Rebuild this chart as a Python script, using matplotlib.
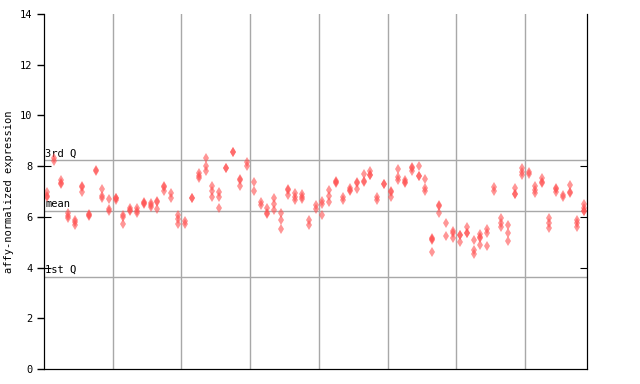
import numpy as np
import matplotlib
matplotlib.use("Agg")
import matplotlib.pyplot as plt

# replicate values per sample, one list per sample column
samples = [
    [6.97, 6.80, 6.84], [8.31, 8.20], [7.44, 7.31, 7.33], [6.14, 6.05, 5.97],
    [5.86, 5.78, 5.68], [7.19, 7.21, 7.00], [6.11, 6.05, 6.07], [7.82, 7.84],
    [7.10, 6.83, 6.76], [6.69, 6.30, 6.23], [6.73, 6.75, 6.66], [6.07, 6.01, 5.73],
    [6.34, 6.24, 6.26], [6.34, 6.24, 6.16], [6.59, 6.51, 6.53], [6.47, 6.38, 6.55],
    [6.60, 6.62, 6.31], [7.19, 7.21, 7.02], [6.95, 6.73], [6.07, 5.91, 5.73],
    [5.83, 5.73], [6.73, 6.75], [7.72, 7.62, 7.52], [8.31, 7.99, 7.81],
    [7.23, 7.02, 6.77], [6.97, 6.77, 6.34], [7.91, 7.93], [8.54, 8.56],
    [7.46, 7.48, 7.23], [8.15, 7.99], [7.36, 7.02], [6.57, 6.47],
    [6.34, 6.12, 6.14], [6.73, 6.49, 6.26], [6.14, 5.86, 5.51], [7.06, 7.08, 6.86],
    [6.95, 6.79, 6.66], [6.90, 6.77, 6.69], [5.86, 5.68], [6.47, 6.30],
    [6.62, 6.49, 6.07], [7.06, 6.82, 6.57], [7.39, 7.41, 7.32], [6.77, 6.66],
    [7.12, 7.03, 7.05], [7.35, 7.37, 7.09], [7.68, 7.39, 7.41], [7.81, 7.65, 7.67],
    [6.77, 6.66], [7.28, 7.30], [6.99, 7.01, 6.77], [7.87, 7.58, 7.45],
    [7.45, 7.35, 7.37], [7.94, 7.96, 7.82], [8.00, 7.61, 7.63], [7.48, 7.12, 7.03],
    [5.15, 5.09, 5.11, 4.60], [6.44, 6.46, 6.14], [5.75, 5.24], [5.45, 5.35, 5.18],
    [5.28, 5.30, 5.02], [5.61, 5.35, 5.37], [5.09, 4.69, 4.52], [5.31, 5.18, 5.20, 4.89],
    [5.51, 5.35, 4.85], [7.19, 7.03], [5.94, 5.75, 5.59], [5.68, 5.35, 5.05],
    [7.12, 6.89, 6.91], [7.94, 7.76, 7.65], [7.78, 7.70], [7.23, 7.06, 6.93],
    [7.52, 7.35, 7.37], [5.94, 5.75, 5.58], [7.10, 7.12, 6.99], [6.86, 6.79],
    [7.26, 6.95, 6.97], [5.88, 5.75, 5.61], [6.49, 6.34, 6.23, 6.25],
]
q1 = 3.63
mean_val = 6.23
q3 = 8.23
y_ticks = [0, 2, 4, 6, 8, 10, 12, 14]

mono = "DejaVu Sans Mono"

fig = plt.figure(figsize=(6.4, 3.84), dpi=100)
ax = fig.add_axes([44 / 640, 15 / 384, 543 / 640, 355 / 384])

n = len(samples)
xs = []
ys = []
for i, vals in enumerate(samples):
    for v in vals:
        xs.append(i + 0.5)
        ys.append(v)

ax.set_xlim(0, n)
ax.set_ylim(0, 14)

# vertical grid every 10 samples
for gx in range(10, n, 10):
    ax.axvline(gx, color="#a8a8a8", lw=1, zorder=1)

# quartile / mean lines with labels
for val, lab in [(q3, "3rd Q"), (mean_val, "mean"), (q1, "1st Q")]:
    ax.axhline(val, color="#a8a8a8", lw=1, zorder=1)
    ax.text(0.15, val + 0.08, lab, fontsize=7.5, family=mono, va="bottom",
            ha="left", zorder=2)

ax.plot(xs, ys, linestyle="none", marker="d", ms=5, color="#ff5050",
        alpha=0.6, markeredgewidth=0, zorder=3)

ax.set_yticks(y_ticks)
ax.set_yticklabels([str(t) for t in y_ticks], family=mono, fontsize=7.5)
ax.set_xticks([])
ax.tick_params(axis="y", direction="out", length=5, width=1)
ax.spines["top"].set_visible(False)
ax.set_ylabel("affy-normalized expression", family=mono, fontsize=7.5)

# small inward ticks at 4, 6, 8 on both sides
ax2 = ax.twinx()
ax2.set_ylim(0, 14)
ax2.set_yticks([4, 6, 8])
ax2.tick_params(axis="y", direction="in", length=5, left=True, right=True,
                labelleft=False, labelright=False)
ax2.spines["top"].set_visible(False)

fig.savefig("out.png", dpi=100)
